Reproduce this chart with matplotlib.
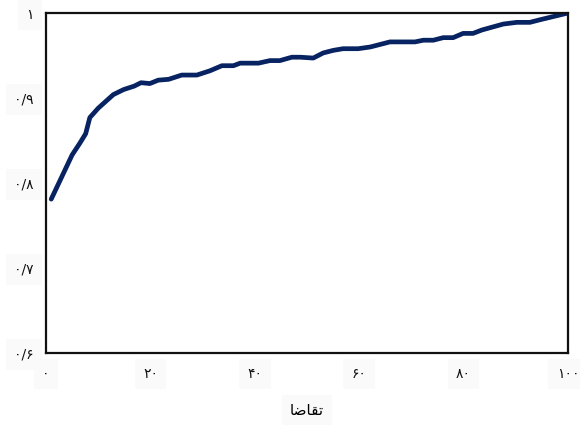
import matplotlib
matplotlib.use("Agg")
import matplotlib.pyplot as plt

# Data (knot points of the curve)
x_vals = [1, 5, 6.5, 7.6, 8.4, 10, 12.9, 14.9, 16.9, 18.2, 19.9, 21.5, 23.5, 26, 28.9,
          31.4, 33.7, 35.9, 37.2, 40.7, 42.9, 44.8, 47.1, 48.7, 51.2, 53.1, 55, 56.9,
          59.8, 62.1, 65.9, 70.7, 72.3, 74.2, 76.1, 78, 79.9, 81.8, 83.5, 87.6, 90.2,
          92.7, 94.6, 100]
y_vals = [0.781, 0.833, 0.847, 0.858, 0.877, 0.888, 0.904, 0.910, 0.914, 0.918, 0.917,
          0.921, 0.922, 0.927, 0.927, 0.932, 0.938, 0.938, 0.941, 0.941, 0.944, 0.944,
          0.948, 0.948, 0.947, 0.953, 0.956, 0.958, 0.958, 0.960, 0.966, 0.966, 0.968,
          0.968, 0.971, 0.971, 0.976, 0.976, 0.980, 0.987, 0.989, 0.989, 0.992, 1.0]

x_ticks = [0, 20, 40, 60, 80, 100]
x_tick_labels = ["۰", "۲۰", "۴۰", "۶۰", "۸۰", "۱۰۰"]
y_ticks = [0.6, 0.7, 0.8, 0.9, 1.0]
y_tick_labels = ["۰/۶", "۰/۷", "۰/۸", "۰/۹", "۱"]
# "تقاضا" written in shaped presentation forms, visual order (matplotlib has no Arabic shaping)
x_label = "\ufe8e\ufebf\ufe8e\ufed8\ufe97"

plt.rcParams['font.family'] = ['DejaVu Sans']

fig = plt.figure(figsize=(5.8, 4.25), dpi=100)
ax = fig.add_axes([0.0793, 0.1694, 0.9, 0.80])

ax.plot(x_vals, y_vals, color="#082361", linewidth=3.4, solid_joinstyle="round",
        solid_capstyle="round")

ax.set_xlim(0, 100)
ax.set_ylim(0.6, 1.0)
ax.set_xticks(x_ticks)
ax.set_xticklabels(x_tick_labels)
ax.set_yticks(y_ticks)
ax.set_yticklabels(y_tick_labels)
ax.tick_params(axis="both", length=0, labelsize=10, colors="#111111")
ax.tick_params(axis="x", pad=10)
ax.tick_params(axis="y", pad=9)

for lab in ax.get_xticklabels() + ax.get_yticklabels():
    lab.set_bbox(dict(facecolor="#fafafa", edgecolor="none", pad=6))

for sp in ax.spines.values():
    sp.set_linewidth(1.6)
    sp.set_color("#111111")

ax.set_xlabel(x_label, fontsize=11, labelpad=16,
              bbox=dict(facecolor="#fafafa", edgecolor="none", pad=6))

fig.savefig("out.png", dpi=100)
